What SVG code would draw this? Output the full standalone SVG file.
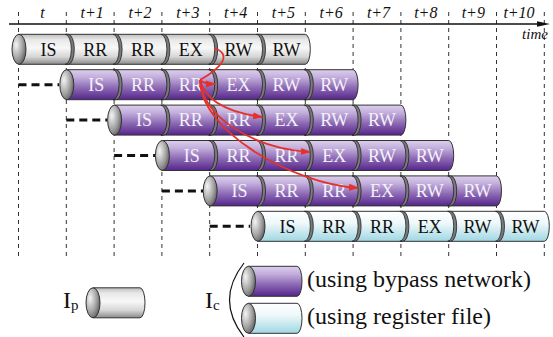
<svg xmlns="http://www.w3.org/2000/svg" xmlns:xlink="http://www.w3.org/1999/xlink" width="553" height="337" viewBox="0 0 553 337">
<style>
.vl{stroke:#333;stroke-width:1;stroke-dasharray:4 4;fill:none}
.dep{stroke:#111;stroke-width:3;stroke-dasharray:8 5;fill:none}
.gray{fill:url(#gGray);stroke:#333;stroke-width:1}
.purp{fill:url(#gPurp);stroke:#333;stroke-width:1}
.blue{fill:url(#gBlue);stroke:#333;stroke-width:1}
.cap{fill:url(#gCap);stroke:#333;stroke-width:1}
.dv{fill:#7a7a7a;stroke:#222;stroke-width:0.8}
.lbl{font-family:"Liberation Serif","Times New Roman",serif;font-size:18px;text-anchor:middle}
.lw{fill:#f4f1f9}
.lb{fill:#111}
.tl{font-family:"Liberation Serif","Times New Roman",serif;font-style:italic;font-size:16px;text-anchor:middle;fill:#111}
.leg{font-family:"Liberation Serif","Times New Roman",serif;font-size:24px;fill:#111}
.sub{font-size:15px}
.red{stroke:#e5312b;stroke-width:1.8;fill:none}
</style>
<defs>
<linearGradient id="gGray" x1="0" y1="0" x2="0" y2="1">
<stop offset="0" stop-color="#bdbdbd"/><stop offset="0.18" stop-color="#e8e8e8"/><stop offset="0.45" stop-color="#f8f8f8"/><stop offset="0.75" stop-color="#d6d6d6"/><stop offset="1" stop-color="#8a8a8a"/>
</linearGradient>
<linearGradient id="gPurp" x1="0" y1="0" x2="0" y2="1">
<stop offset="0" stop-color="#dccfec"/><stop offset="0.25" stop-color="#c3afdc"/><stop offset="0.6" stop-color="#8d6ab5"/><stop offset="1" stop-color="#55258a"/>
</linearGradient>
<linearGradient id="gBlue" x1="0" y1="0" x2="0" y2="1">
<stop offset="0" stop-color="#ffffff"/><stop offset="0.4" stop-color="#eef8fa"/><stop offset="1" stop-color="#9fd7e2"/>
</linearGradient>
<radialGradient id="gCap" cx="0.3" cy="0.35" r="0.85">
<stop offset="0" stop-color="#f4f4f4"/><stop offset="0.55" stop-color="#a0a0a0"/><stop offset="1" stop-color="#4a4a4a"/>
</radialGradient>
<path id="body" d="M0,-15 H286.8 A5 15 0 0 1 286.8,15 H0 Z"/>
<path id="div" class="dv" d="M-1,-15 A6 15 0 0 1 -1,15 L2,15 A6 15 0 0 0 2,-15 Z"/>
<ellipse id="capE" class="cap" cx="0.5" cy="0" rx="7" ry="15"/>
<marker id="ah" markerWidth="10" markerHeight="8" refX="9" refY="4" orient="auto" markerUnits="userSpaceOnUse">
<path d="M0,0.5 L10,4 L0,7.5 Z" fill="#e5312b"/>
</marker>
</defs>

<g id="grid">
<line class="vl" x1="18.5" y1="12" x2="18.5" y2="257"/>
<line class="vl" x1="66.3" y1="12" x2="66.3" y2="257"/>
<line class="vl" x1="114.1" y1="12" x2="114.1" y2="257"/>
<line class="vl" x1="161.9" y1="12" x2="161.9" y2="257"/>
<line class="vl" x1="209.7" y1="12" x2="209.7" y2="257"/>
<line class="vl" x1="257.5" y1="12" x2="257.5" y2="257"/>
<line class="vl" x1="305.3" y1="12" x2="305.3" y2="257"/>
<line class="vl" x1="353.1" y1="12" x2="353.1" y2="257"/>
<line class="vl" x1="400.9" y1="12" x2="400.9" y2="257"/>
<line class="vl" x1="448.7" y1="12" x2="448.7" y2="257"/>
<line class="vl" x1="496.5" y1="12" x2="496.5" y2="257"/>
<line class="vl" x1="544.3" y1="12" x2="544.3" y2="257"/>
</g>

<g id="time-axis">
<line x1="9" y1="24" x2="541" y2="24" stroke="#111" stroke-width="1.5"/>
<path d="M537,21.3 L550,24 L537,26.7 Z" fill="#111"/>
<text class="tl" x="42.5" y="18">t</text>
<text class="tl" x="92.2" y="18">t+1</text>
<text class="tl" x="140" y="18">t+2</text>
<text class="tl" x="187.8" y="18">t+3</text>
<text class="tl" x="235.6" y="18">t+4</text>
<text class="tl" x="283.4" y="18">t+5</text>
<text class="tl" x="331.2" y="18">t+6</text>
<text class="tl" x="378.5" y="18">t+7</text>
<text class="tl" x="425.8" y="18">t+8</text>
<text class="tl" x="473.3" y="18">t+9</text>
<text class="tl" x="519" y="18">t+10</text>
<text class="tl" x="535" y="39" style="font-size:15px">time</text>
</g>

<g id="row0">
<use href="#body" class="gray" x="18.5" y="49.3"/>
<use href="#div" x="66.3" y="49.3"/><use href="#div" x="114.1" y="49.3"/><use href="#div" x="161.9" y="49.3"/><use href="#div" x="209.7" y="49.3"/><use href="#div" x="257.5" y="49.3"/>
<use href="#capE" x="18.5" y="49.3"/>
<text class="lbl lb" y="55.5"><tspan x="48.4">IS</tspan><tspan x="95.2">RR</tspan><tspan x="143">RR</tspan><tspan x="190.8">EX</tspan><tspan x="238.6">RW</tspan><tspan x="286.4">RW</tspan></text>
</g>

<g id="row1">
<use href="#body" class="purp" x="66.3" y="84.7"/>
<use href="#div" x="114.1" y="84.7"/><use href="#div" x="161.9" y="84.7"/><use href="#div" x="209.7" y="84.7"/><use href="#div" x="257.5" y="84.7"/><use href="#div" x="305.3" y="84.7"/>
<use href="#capE" x="66.3" y="84.7"/>
<text class="lbl lw" y="90.9"><tspan x="96.2">IS</tspan><tspan x="143">RR</tspan><tspan x="190.8">RR</tspan><tspan x="238.6">EX</tspan><tspan x="286.4">RW</tspan><tspan x="334.2">RW</tspan></text>
</g>

<g id="row2">
<use href="#body" class="purp" x="114.1" y="120.1"/>
<use href="#div" x="161.9" y="120.1"/><use href="#div" x="209.7" y="120.1"/><use href="#div" x="257.5" y="120.1"/><use href="#div" x="305.3" y="120.1"/><use href="#div" x="353.1" y="120.1"/>
<use href="#capE" x="114.1" y="120.1"/>
<text class="lbl lw" y="126.3"><tspan x="144">IS</tspan><tspan x="190.8">RR</tspan><tspan x="238.6">RR</tspan><tspan x="286.4">EX</tspan><tspan x="334.2">RW</tspan><tspan x="382">RW</tspan></text>
</g>

<g id="row3">
<use href="#body" class="purp" x="161.9" y="155.5"/>
<use href="#div" x="209.7" y="155.5"/><use href="#div" x="257.5" y="155.5"/><use href="#div" x="305.3" y="155.5"/><use href="#div" x="353.1" y="155.5"/><use href="#div" x="400.9" y="155.5"/>
<use href="#capE" x="161.9" y="155.5"/>
<text class="lbl lw" y="161.7"><tspan x="191.8">IS</tspan><tspan x="238.6">RR</tspan><tspan x="286.4">RR</tspan><tspan x="334.2">EX</tspan><tspan x="382">RW</tspan><tspan x="429.8">RW</tspan></text>
</g>

<g id="row4">
<use href="#body" class="purp" x="209.7" y="190.9"/>
<use href="#div" x="257.5" y="190.9"/><use href="#div" x="305.3" y="190.9"/><use href="#div" x="353.1" y="190.9"/><use href="#div" x="400.9" y="190.9"/><use href="#div" x="448.7" y="190.9"/>
<use href="#capE" x="209.7" y="190.9"/>
<text class="lbl lw" y="197.1"><tspan x="239.6">IS</tspan><tspan x="286.4">RR</tspan><tspan x="334.2">RR</tspan><tspan x="382">EX</tspan><tspan x="429.8">RW</tspan><tspan x="477.6">RW</tspan></text>
</g>

<g id="row5">
<use href="#body" class="blue" x="257.5" y="226.3"/>
<use href="#div" x="305.3" y="226.3"/><use href="#div" x="353.1" y="226.3"/><use href="#div" x="400.9" y="226.3"/><use href="#div" x="448.7" y="226.3"/><use href="#div" x="496.5" y="226.3"/>
<use href="#capE" x="257.5" y="226.3"/>
<text class="lbl lb" y="232.5"><tspan x="287.4">IS</tspan><tspan x="334.2">RR</tspan><tspan x="382">RR</tspan><tspan x="429.8">EX</tspan><tspan x="477.6">RW</tspan><tspan x="525.4">RW</tspan></text>
</g>

<g id="connectors">
<line class="dep" x1="18.5" y1="84.7" x2="59" y2="84.7"/>
<line class="dep" x1="66.3" y1="120.1" x2="107" y2="120.1"/>
<line class="dep" x1="114.1" y1="155.5" x2="155" y2="155.5"/>
<line class="dep" x1="161.9" y1="190.9" x2="203" y2="190.9"/>
<line class="dep" x1="209.7" y1="226.3" x2="250" y2="226.3"/>
<path class="red" d="M214,48 C232,54 223,67 200,80"/>
<path class="red" marker-end="url(#ah)" d="M200,80 C203,83 208,84 215,84"/>
<path class="red" marker-end="url(#ah)" d="M200,80 C205,100 225,112 262,117"/>
<path class="red" marker-end="url(#ah)" d="M200,80 C202,115 250,148 310,152"/>
<path class="red" marker-end="url(#ah)" d="M200,80 C200,130 290,183 358,188"/>
</g>

<g id="legend-ip">
<text class="leg" x="63" y="308">I<tspan class="sub" dy="2">p</tspan></text>
<path class="gray" d="M93,287.8 H140 A5 15 0 0 1 140,317.8 H93 Z"/>
<ellipse class="cap" cx="93" cy="302.8" rx="7" ry="15"/>
</g>

<g id="legend-ic">
<text class="leg" x="205" y="308">I<tspan class="sub" dy="2">c</tspan></text>
<path d="M244,263 Q215,300 244,337" fill="none" stroke="#111" stroke-width="1.2"/>
<path class="purp" d="M248.5,266.3 H297 A5 15 0 0 1 297,296.3 H248.5 Z"/>
<ellipse class="cap" cx="248.5" cy="281.3" rx="7" ry="15"/>
<path class="blue" d="M248.5,303.3 H297 A5 15 0 0 1 297,333.3 H248.5 Z"/>
<ellipse class="cap" cx="248.5" cy="318.3" rx="7" ry="15"/>
<text class="leg" x="307" y="287">(using bypass network)</text>
<text class="leg" x="307" y="324">(using register file)</text>
</g>
</svg>
